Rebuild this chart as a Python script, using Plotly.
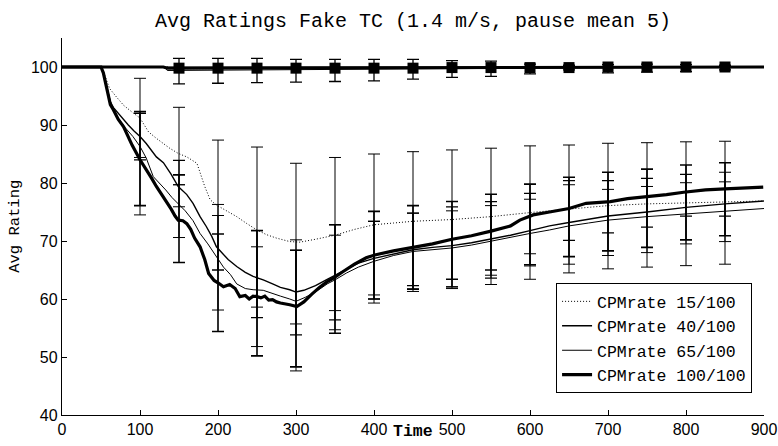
import plotly.graph_objects as go

# ---------------- data ----------------
# lower curves (fake node ratings)
t15 = [0,50,55,61,70,79,90,100,111,121,138,149,160,173,183,190,198,210,224,237,250,262,275,292,305,325,350,375,400,425,450,500,550,600,650,700,750,800,850,900]
v15 = [100,100,98.5,96.3,94.8,93.4,92.2,91.2,88.8,87.7,86.0,85.1,84.5,83.4,79.4,77.1,76.2,75.3,74.2,73.0,71.9,71.1,70.5,69.9,69.8,70.3,71.0,72.0,72.8,73.1,73.4,73.7,74.2,74.9,75.5,76.1,76.4,76.6,76.8,76.9]

t40 = [0,50,53,57,62,66,72,76,85,92,100,108,115,121,130,140,149,160,168,177,185,192,198,205,213,224,235,245,258,270,280,292,300,310,325,340,350,365,380,400,425,450,475,500,525,550,575,600,625,650,675,700,750,800,850,900]
v40 = [100,100,99,96.8,94,93,92,91.4,90,89,88,86.8,85.5,84.5,83.5,81.5,79.4,78,76.5,74.2,72.5,70.8,69.0,68,66.8,65.6,64.6,63.9,63.3,62.6,62,61.6,61.2,61.5,62.3,63.4,64.1,65.2,66.2,67.0,67.8,68.5,68.9,69.2,69.7,70.3,71.0,71.8,72.6,73.2,73.8,74.3,75.0,75.8,76.4,76.9]

t65 = [0,50,53,57,62,66,72,80,91,100,108,117,125,133,141,149,158,168,177,187,198,207,216,224,235,245,258,268,280,292,300,312,325,340,350,365,380,400,425,450,475,500,525,550,575,600,625,650,675,700,750,800,850,900]
v65 = [100,100,99,96.6,94,92.8,91.2,89.7,88,86.3,84.3,81.1,80,78.8,77.5,76.5,75.2,73.5,71.3,69.5,67.3,65.5,64.2,62.6,61.8,61.6,61.5,61,60.5,60,59.6,60.3,61.2,62.6,63.3,64.5,65.5,66.5,67.5,68.2,68.5,68.8,69.3,70.0,70.6,71.3,71.9,72.6,73.1,73.6,74.2,74.7,75.2,75.6]

t100 = [0,50,53,57,62,66,72,79,90,100,105,110,115,121,127,133,140,145,149,155,160,165,170,177,183,188,195,200,207,215,222,228,235,240,245,250,255,260,265,270,275,280,285,292,301,310,320,330,340,348,360,375,390,401,425,450,475,500,525,550,575,587,604,625,650,672,703,725,750,775,797,825,850,875,899]
v100 = [100,100,99,96.6,93.5,92.6,91,89.7,86.5,84,83,81.8,80.8,79.4,78.2,76.8,75.5,74.3,73.6,73.5,73,72,70.5,69,66.8,64.4,63.2,62.8,62.1,62.5,61.8,60.4,60.6,60,60.5,60.4,60.2,60.5,59.8,59.9,59.5,59.3,59.2,59.0,58.7,59.5,60.8,62,63,63.6,64.7,66,67.1,67.6,68.3,68.9,69.5,70.3,70.9,71.7,72.6,73.6,74.5,75.0,75.6,76.5,76.8,77.3,77.6,78.0,78.4,78.8,79.0,79.2,79.3]

# error bars of lower curves (top / bottom of each bar)
bar_t = [100,150,200,250,300,350,400,450,500,550,600,650,700,750,800,850]
top15 = [98.05,93.05,87.4,86.2,83.4,84.4,85.0,85.4,85.7,86.0,86.4,86.55,86.85,86.95,87.1,87.2]
bot15 = [84.4,75.9,65.0,58.6,55.7,58.0,60.7,61.3,61.8,62.5,63.4,64.5,65.2,65.5,65.75,66.0]
top40 = [92.0,83.9,74.4,71.8,68.4,72.8,73.4,74.8,75.9,76.8,78.2,80.4,80.4,80.8,81.5,81.85]
bot40 = [84.0,79.7,65.0,56.8,53.8,56.4,60.0,62.3,62.1,63.6,67.8,70.1,71.4,72.4,74.3,74.3]
top65 = [92.0,79.7,76.3,69.0,70.2,71.0,73.4,74.8,75.2,76.1,77.2,79.7,78.9,79.4,80.05,80.2]
bot65 = [74.5,70.6,58.1,51.8,47.6,54.7,59.3,61.7,62.1,64.1,65.7,66.0,67.5,68.0,69.5,69.9]
top100 = [92.3,81.4,71.2,71.8,68.4,72.8,75.1,76.1,76.8,78.05,79.8,81.0,81.85,82.4,83.1,83.5]
bot100 = [76.1,66.3,54.4,50.2,48.3,54.1,60.0,61.7,63.4,65.0,65.9,67.3,68.3,68.9,70.2,70.9]

# upper curves (ratings near 100)
tu_flat = [0,900]
vu_flat = [100,100]
tu_step = [0,132,135,300,600,900]
vu_step = [100,100,99.4,99.5,99.8,100]
tu_dot = [0,136,139,900]
vu_dot = [100,100,99.7,100]
tu_thick = [0,130,135,900]
vu_thick = [100,100,99.8,100]

ubar_t = [150,200,250,300,350,400,450,500,550,600,650,700,750,800,850]
ubar_mid = [99.8,99.8,99.8,99.8,99.8,99.8,99.8,99.9,99.9,99.9,99.9,100,100,100,100]
ubar_top = [101.5,101.5,101.5,101.3,101.3,101.3,101.3,101.1,101.0,100.5,100.3,100.4,100.5,100.4,100.3]
ubar_bot = [97.1,97.2,97.3,97.4,97.5,97.6,97.9,98.2,98.4,98.8,99.5,99.0,99.1,99.2,99.5]

names = ["CPMrate 15/100", "CPMrate 40/100", "CPMrate 65/100", "CPMrate 100/100"]
x_ticks = [0,100,200,300,400,500,600,700,800,900]
y_ticks = [40,50,60,70,80,90,100]

# ---------------- figure ----------------
fig = go.Figure()

def add_bars(tt, top, bot, width):
    mid = [(a + b) / 2 for a, b in zip(top, bot)]
    half = [(a - b) / 2 for a, b in zip(top, bot)]
    fig.add_trace(go.Scatter(
        x=tt, y=mid, mode="markers",
        marker=dict(size=1, color="rgba(0,0,0,0)"),
        error_y=dict(type="data", array=half, symmetric=True,
                     color="black", thickness=width, width=6),
        showlegend=False, hoverinfo="skip"))

add_bars(bar_t, top15, bot15, 1)
add_bars(bar_t, top40, bot40, 1.2)
add_bars(bar_t, top65, bot65, 1)
add_bars(bar_t, top100, bot100, 1.6)

# upper error bars
fig.add_trace(go.Scatter(
    x=ubar_t, y=ubar_mid, mode="markers",
    marker=dict(size=1, color="rgba(0,0,0,0)"),
    error_y=dict(type="data",
                 array=[a - m for a, m in zip(ubar_top, ubar_mid)],
                 arrayminus=[m - b for m, b in zip(ubar_mid, ubar_bot)],
                 color="black", thickness=1.3, width=6),
    showlegend=False, hoverinfo="skip"))

# upper lines
fig.add_trace(go.Scatter(x=tu_flat, y=vu_flat, mode="lines",
                         line=dict(color="black", width=1), showlegend=False))
fig.add_trace(go.Scatter(x=tu_step, y=vu_step, mode="lines",
                         line=dict(color="black", width=1), showlegend=False))
fig.add_trace(go.Scatter(x=tu_dot, y=vu_dot, mode="lines",
                         line=dict(color="black", width=1, dash="1px,2px"), showlegend=False))
fig.add_trace(go.Scatter(x=tu_thick, y=vu_thick, mode="lines",
                         line=dict(color="black", width=3), showlegend=False))
fig.add_trace(go.Scatter(x=ubar_t, y=ubar_mid, mode="markers",
                         marker=dict(symbol="square", size=11, color="black"),
                         showlegend=False))

# lower lines (legend)
fig.add_trace(go.Scatter(x=t15, y=v15, mode="lines", name=names[0],
                         line=dict(color="black", width=1, dash="1px,2px")))
fig.add_trace(go.Scatter(x=t40, y=v40, mode="lines", name=names[1],
                         line=dict(color="black", width=1.4)))
fig.add_trace(go.Scatter(x=t65, y=v65, mode="lines", name=names[2],
                         line=dict(color="black", width=1)))
fig.add_trace(go.Scatter(x=t100, y=v100, mode="lines", name=names[3],
                         line=dict(color="black", width=3.2)))

mono = "Liberation Mono, Courier New, monospace"
sans = "Liberation Sans, Arial, sans-serif"

fig.update_layout(
    width=778, height=446,
    margin=dict(l=62, r=14, t=38, b=31, autoexpand=False),
    paper_bgcolor="white", plot_bgcolor="white",
    font=dict(family=sans, color="black", size=16),
    title=dict(text="Avg Ratings Fake TC (1.4 m/s, pause mean 5)",
               font=dict(family=mono, size=20, color="black"),
               x=0.5, xref="paper", xanchor="center",
               y=0.955, yref="container", yanchor="middle"),
    showlegend=True,
    legend=dict(x=0.983, y=0.058, xanchor="right", yanchor="bottom",
                bgcolor="white", bordercolor="black", borderwidth=1,
                font=dict(family=mono, size=16.5, color="black"),
                itemwidth=30, tracegroupgap=0),
    xaxis=dict(range=[0, 900], tickvals=x_ticks, ticktext=[str(v) for v in x_ticks],
               showgrid=False, zeroline=False, showline=True, linecolor="black",
               linewidth=1.3, ticks="inside", ticklen=5, tickcolor="black",
               tickfont=dict(family=sans, size=16), mirror=False, automargin=False),
    yaxis=dict(range=[40, 105], tickvals=y_ticks, ticktext=[str(v) for v in y_ticks],
               showgrid=False, zeroline=False, showline=True, linecolor="black",
               linewidth=1.3, ticks="inside", ticklen=5, tickcolor="black",
               tickfont=dict(family=sans, size=16), mirror=False, automargin=False),
    annotations=[
        dict(text="Avg Rating", xref="paper", yref="paper", x=-0.068, y=0.5,
             textangle=-90, showarrow=False, xanchor="center", yanchor="middle",
             font=dict(family=mono, size=15.5, color="black")),
        dict(text="<b>Time</b>", xref="paper", yref="paper", x=0.5, y=-0.045,
             showarrow=False, xanchor="center", yanchor="middle",
             font=dict(family=mono, size=16.5, color="black")),
    ],
)

fig.write_html("out.html", config={"displayModeBar": False},
               post_script="document.body.style.margin='0';document.body.style.padding='0';")
